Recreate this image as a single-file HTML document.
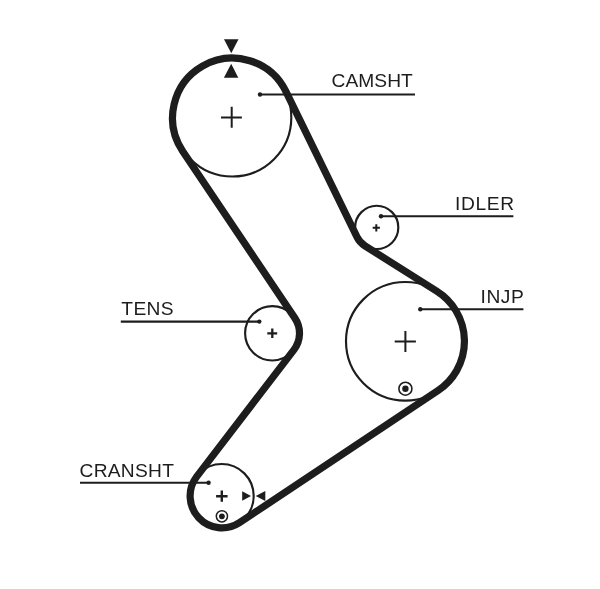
<!DOCTYPE html>
<html><head><meta charset="utf-8"><title>Timing belt diagram</title>
<style>
html,body{margin:0;padding:0;background:#fff;}
body{width:600px;height:589px;overflow:hidden;}
svg{display:block;}
text{font-family:"Liberation Sans",Arial,Helvetica,sans-serif;font-size:19.2px;fill:#1d1d1b;}
.thin{fill:none;stroke:#1d1d1b;stroke-width:2.15;}
.lead{fill:none;stroke:#1d1d1b;stroke-width:2.1;}
.belt{fill:none;stroke:#1d1d1b;stroke-width:7.2;stroke-linejoin:round;}
.cross{fill:none;stroke:#1d1d1b;}
.k{fill:#1d1d1b;}
svg{will-change:transform;filter:grayscale(1);}
</style></head>
<body>
<svg width="600" height="589" viewBox="0 0 600 589">
<rect width="600" height="589" fill="#ffffff"/>
<!-- pulleys -->
<circle class="thin" cx="232.3" cy="117.5" r="59"/>
<circle class="thin" cx="376.7" cy="227.4" r="21.6"/>
<circle class="thin" cx="405.3" cy="341.3" r="59.3"/>
<circle class="thin" cx="221.7" cy="496" r="32"/>
<circle class="thin" cx="272.3" cy="333.3" r="27.2"/>
<!-- belt -->
<path class="belt" d="M182.71 151.23 A59.75 59.75 0 1 1 285.99 91.68 L356.93 236.95 A22.00 22.00 0 0 0 364.96 245.91 L436.86 291.28 A59.15 59.15 0 0 1 438.07 390.54 L239.67 522.56 A31.90 31.90 0 0 1 196.69 476.59 L293.88 349.85 A27.20 27.20 0 0 0 294.88 318.13 L182.71 151.23 Z"/>
<!-- centre crosses -->
<path class="cross" stroke-width="2" d="M221 117.5H241.9M231.7 106.8V127.7"/>
<path class="cross" stroke-width="2" d="M394.7 341.6H415.9M405.4 331V351.9"/>
<path class="cross" stroke-width="2" d="M372.7 227.8H379.9M376.3 224.2V231.4"/>
<path class="cross" stroke-width="2.3" d="M267.3 333.3H277.2M272.3 328.5V338"/>
<path class="cross" stroke-width="2.4" d="M216.1 496.2H227.6M221.8 490.6V501.8"/>
<!-- timing marks -->
<circle class="thin" stroke-width="1.3" cx="405.4" cy="388.7" r="6.5" style="stroke-width:1.6"/>
<circle class="k" cx="405.4" cy="388.7" r="3.2"/>
<circle class="thin" cx="221.9" cy="516.3" r="5.6" style="stroke-width:1.5"/>
<circle class="k" cx="221.9" cy="516.3" r="2.9"/>
<!-- arrows -->
<path class="k" d="M224 39.2H238.5L231.25 53.3Z"/>
<path class="k" d="M223.9 77.7H238.3L231.2 63.7Z"/>
<path class="k" d="M242.2 491.2V500.8L251 496Z"/>
<path class="k" d="M265.3 491.1V500.9L255.7 496Z"/>
<!-- leaders -->
<path class="lead" d="M260 94.5H415"/><circle class="k" cx="260" cy="94.5" r="2.2"/>
<path class="lead" d="M381 216.2H513.4"/><circle class="k" cx="381" cy="216.2" r="2.2"/>
<path class="lead" d="M420.3 309.2H523.4"/><circle class="k" cx="420.3" cy="309.2" r="2.2"/>
<path class="lead" d="M120.8 321.6H259.3"/><circle class="k" cx="259.3" cy="321.6" r="2.2"/>
<path class="lead" d="M80 482.8H208.6"/><circle class="k" cx="208.6" cy="482.8" r="2.2"/>
<!-- labels -->
<g class="lbl">
<text x="331.6" y="87.3" style="letter-spacing:0.04px">CAMSHT</text>
<text x="454.9" y="209.6" style="letter-spacing:0.7px">IDLER</text>
<text x="480.6" y="302.7" style="letter-spacing:0.5px">INJP</text>
<text x="121.3" y="315.0" style="letter-spacing:0.37px">TENS</text>
<text x="79.5" y="476.9" style="letter-spacing:0.28px">CRANSHT</text>
</g>
</svg>
</body></html>
